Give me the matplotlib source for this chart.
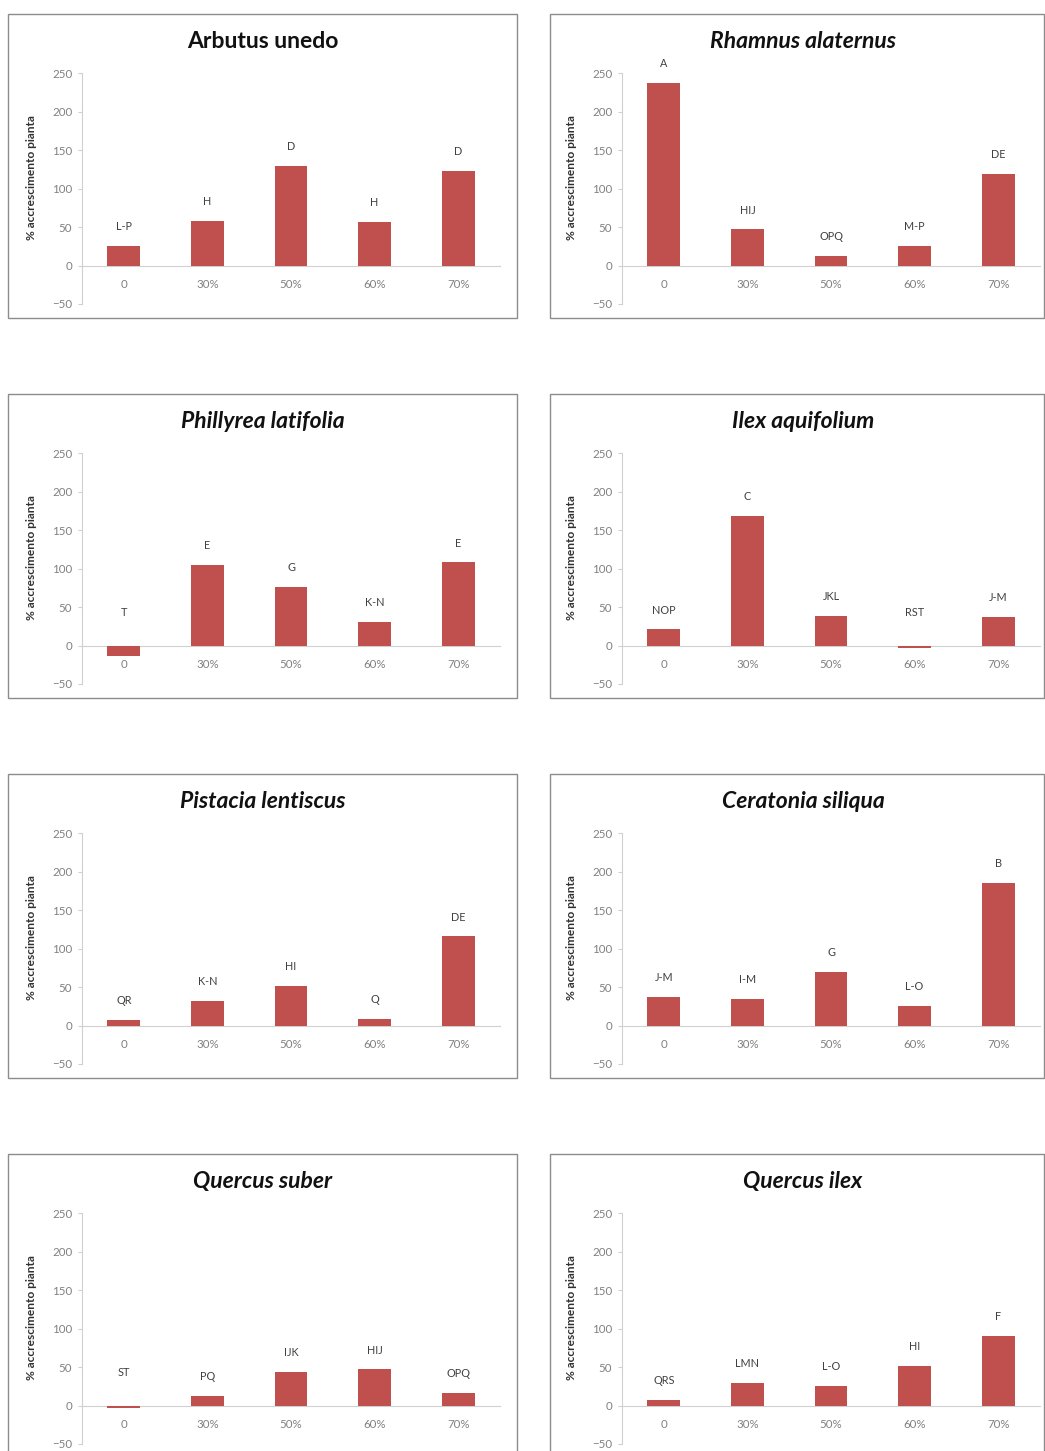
import numpy as np
import matplotlib
matplotlib.use('Agg')
import matplotlib.pyplot as plt
from matplotlib.patches import Rectangle

plt.rcParams['font.family'] = ['Lato', 'DejaVu Sans']

categories = ['0', '30%', '50%', '60%', '70%']

species = ['Arbutus unedo', 'Rhamnus alaternus', 'Phillyrea latifolia', 'Ilex aquifolium',
           'Pistacia lentiscus', 'Ceratonia siliqua', 'Quercus suber', 'Quercus ilex']

arbutus = [25, 58, 130, 57, 123]
rhamnus = [238, 47, 13, 25, 119]
phillyrea = [-13, 105, 76, 31, 108]
ilex = [21, 169, 38, -3, 37]
pistacia = [7, 32, 51, 9, 116]
ceratonia = [37, 35, 70, 25, 185]
q_suber = [-3, 13, 44, 47, 16]
q_ilex = [7, 29, 26, 51, 90]

arbutus_lbl = ['L-P', 'H', 'D', 'H', 'D']
rhamnus_lbl = ['A', 'HIJ', 'OPQ', 'M-P', 'DE']
phillyrea_lbl = ['T', 'E', 'G', 'K-N', 'E']
ilex_lbl = ['NOP', 'C', 'JKL', 'RST', 'J-M']
pistacia_lbl = ['QR', 'K-N', 'HI', 'Q', 'DE']
ceratonia_lbl = ['J-M', 'I-M', 'G', 'L-O', 'B']
q_suber_lbl = ['ST', 'PQ', 'IJK', 'HIJ', 'OPQ']
q_ilex_lbl = ['QRS', 'LMN', 'L-O', 'HI', 'F']

values = [arbutus, rhamnus, phillyrea, ilex, pistacia, ceratonia, q_suber, q_ilex]
letters = [arbutus_lbl, rhamnus_lbl, phillyrea_lbl, ilex_lbl,
           pistacia_lbl, ceratonia_lbl, q_suber_lbl, q_ilex_lbl]

W, H = 1045, 1451
fig = plt.figure(figsize=(W / 100, H / 100), dpi=100)

bar_col = '#C0504D'
axis_col = '#D0D0D0'
tick_col = '#808080'

# pixel layout of the excel-like panels
box_left = [8, 550]
box_right = [517, 1044]
ax_left = [82, 622]
ax_right = [500, 1040]
title_x = [263, 803]
row_off = 380

for i, name in enumerate(species):
    col = i % 2
    row = i // 2
    oy = row * row_off
    # panel frame
    bx0, bx1 = box_left[col], box_right[col]
    by0, by1 = 14 + oy, 318 + oy
    fig.patches.append(Rectangle((bx0 / W, 1 - by1 / H), (bx1 - bx0) / W, (by1 - by0) / H,
                                 transform=fig.transFigure, fill=False,
                                 edgecolor='#8C8C8C', linewidth=1.0))
    top, bot = 73.3 + oy, 304 + oy
    ax = fig.add_axes([ax_left[col] / W, 1 - bot / H,
                       (ax_right[col] - ax_left[col]) / W, (bot - top) / H])
    x = np.arange(len(categories))
    v = values[i]
    ax.bar(x, v, width=0.39, color=bar_col, zorder=3)
    ax.set_xlim(-0.5, 4.5)
    ax.set_ylim(-50, 250)
    ax.set_yticks(np.arange(-50, 251, 50))
    ax.tick_params(axis='y', labelsize=8.3, colors=tick_col, length=3, width=0.8,
                   color=axis_col, pad=4)
    ax.set_xticks(x)
    ax.set_xticklabels(categories)
    ax.tick_params(axis='x', labelsize=8.3, colors=tick_col, length=0, pad=10)
    for s in ['top', 'right']:
        ax.spines[s].set_visible(False)
    ax.spines['bottom'].set_position(('data', 0))
    ax.spines['bottom'].set_color(axis_col)
    ax.spines['left'].set_color(axis_col)
    ax.spines['bottom'].set_zorder(2)
    ax.set_facecolor('none')
    ax.set_ylabel('% accrescimento pianta', fontsize=8.6, color='#303030',
                  fontweight='bold')
    ax.yaxis.set_label_coords(-0.108, 0.55)
    for xi, vi, lb in zip(x, v, letters[i]):
        ly = vi + 18 if vi > 0 else 36
        ax.text(xi, ly, lb, ha='center', va='bottom', fontsize=7.8, color='#404040')
    # title
    fig.text(title_x[col] / W, 1 - (41.7 + oy) / H, name, ha='center', va='center',
             fontsize=16.5, fontweight='bold',
             style='normal' if i == 0 else 'italic', color='#111111')

plt.savefig('out.png', dpi=100)
